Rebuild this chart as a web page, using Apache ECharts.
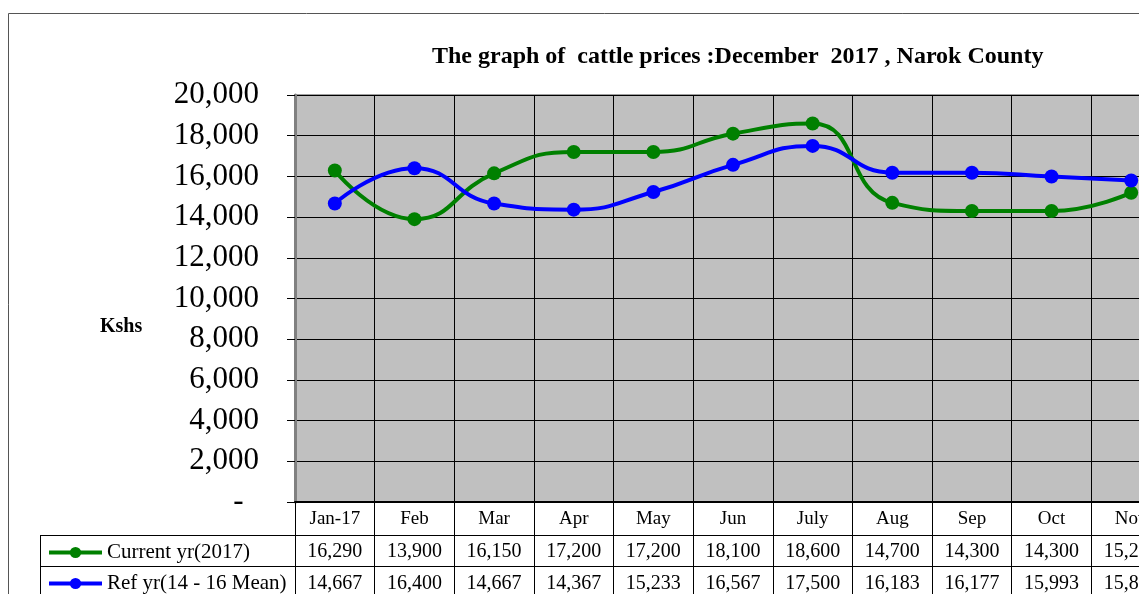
<!DOCTYPE html>
<html>
<head>
<meta charset="UTF-8">
<title>Cattle prices - Narok County</title>
<script src="https://cdn.jsdelivr.net/npm/echarts@6/dist/echarts.min.js" type="text/javascript"></script>
<style>
    html, body { margin: 0; padding: 0; overflow: hidden; background: #fff; }
</style>
</head>
<body>
    <div id="container" style="width: 1200px; height: 594px;"></div>
    <script>

    // months shown on the x axis (the picture is cut off after Nov)
    var months = ['Jan-17', 'Feb', 'Mar', 'Apr', 'May', 'Jun', 'July', 'Aug', 'Sep', 'Oct', 'Nov'];
    // Current yr(2017)
    var current = [16290, 13900, 16150, 17200, 17200, 18100, 18600, 14700, 14300, 14300, 15200];
    // Ref yr(14 - 16 Mean)
    var refMean = [14667, 16400, 14667, 14367, 15233, 16567, 17500, 16183, 16177, 15993, 15800];

    var serif = "'Liberation Serif', 'Times New Roman', serif";

    function fmt(v) {
        return String(v).replace(/\B(?=(\d{3})+(?!\d))/g, ',');
    }

    // one legend per table row so each key sits in its own row
    function rowLegend(name, top) {
        return {
            left: 42,
            top: top,
            itemWidth: 53,
            itemHeight: 14,
            data: [name],
            lineStyle: { width: 4 },
            textStyle: { fontFamily: serif, fontSize: 21, color: '#000' }
        };
    }

    var mychart = echarts.init(document.getElementById("container"));

    var option = {
        animation: false,
        title: {
            text: 'The graph of  cattle prices :December  2017 , Narok County',
            left: 427,
            top: 40,
            textStyle: { fontFamily: serif, fontSize: 24, fontWeight: 'bold', color: '#000' }
        },
        legend: [
            rowLegend('Current yr(2017)', 537),
            rowLegend('Ref yr(14 - 16 Mean)', 568)
        ],
        grid: {
            left: 295,
            top: 95,
            width: 876,
            height: 407,
            show: true,
            backgroundColor: '#c0c0c0',
            borderColor: '#a0a0a0',
            borderWidth: 2
        },
        xAxis: [{
            type: 'category',
            data: months,
            boundaryGap: true,
            axisLine: { lineStyle: { color: '#000', width: 2 } },
            axisTick: { show: true, interval: 0, length: 92, lineStyle: { color: '#000', width: 1 } },
            axisLabel: { interval: 0, margin: 8, fontFamily: serif, fontSize: 19, color: '#000' },
            splitLine: { show: true, interval: 0, lineStyle: { color: '#000', width: 1 } }
        }, {
            type: 'category',
            data: current.map(fmt),
            position: 'bottom',
            offset: 34,
            axisLine: { show: false },
            axisTick: { show: false },
            axisLabel: { interval: 0, margin: 6, fontFamily: serif, fontSize: 20, color: '#000' }
        }, {
            type: 'category',
            data: refMean.map(fmt),
            position: 'bottom',
            offset: 66,
            axisLine: { show: false },
            axisTick: { show: false },
            axisLabel: { interval: 0, margin: 6, fontFamily: serif, fontSize: 20, color: '#000' }
        }],
        yAxis: {
            type: 'value',
            min: 0,
            max: 20000,
            interval: 2000,
            axisLine: { show: true, lineStyle: { color: '#808080', width: 3 } },
            axisTick: { show: true, length: 8, lineStyle: { color: '#000' } },
            axisLabel: {
                margin: 36,
                fontFamily: serif,
                fontSize: 31,
                color: '#000',
                formatter: function (v) { return v === 0 ? '-  ' : fmt(v); }
            },
            splitLine: { show: true, lineStyle: { color: '#000', width: 1 } }
        },
        graphic: [
            { type: 'rect', shape: { x: 8.5, y: 13.5, width: 1400, height: 800 }, style: { fill: null, stroke: '#555', lineWidth: 1 }, silent: true },
            { type: 'line', shape: { x1: 40, y1: 535.5, x2: 1200, y2: 535.5 }, style: { stroke: '#000', lineWidth: 1 }, silent: true },
            { type: 'line', shape: { x1: 40, y1: 566.5, x2: 1200, y2: 566.5 }, style: { stroke: '#000', lineWidth: 1 }, silent: true },
            { type: 'line', shape: { x1: 40.5, y1: 535, x2: 40.5, y2: 600 }, style: { stroke: '#000', lineWidth: 1 }, silent: true },
            {
                type: 'text', left: 100, top: 317, silent: true,
                style: { text: 'Kshs', font: "bold 20px 'Liberation Serif', 'Times New Roman', serif", fill: '#000' }
            }
        ],
        series: [{
            name: 'Current yr(2017)',
            type: 'line',
            data: current,
            smooth: 0.5,
            symbol: 'circle',
            symbolSize: 14,
            itemStyle: { color: '#008000' },
            lineStyle: { color: '#008000', width: 4 }
        }, {
            name: 'Ref yr(14 - 16 Mean)',
            type: 'line',
            data: refMean,
            smooth: 0.5,
            symbol: 'circle',
            symbolSize: 14,
            itemStyle: { color: '#0000ff' },
            lineStyle: { color: '#0000ff', width: 4 }
        }]
    };

    mychart.setOption(option);

    </script>
</body>
</html>
